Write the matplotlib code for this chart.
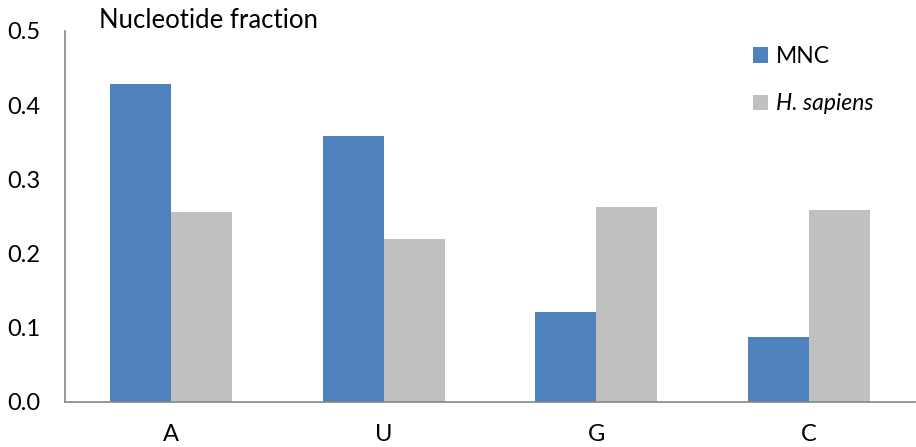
import matplotlib.pyplot as plt
import numpy as np

plt.rcParams['font.family'] = ['Lato', 'DejaVu Sans']

nucleotides = ['A', 'U', 'G', 'C']
mnc = [0.429, 0.358, 0.121, 0.088]
h_sapiens = [0.256, 0.220, 0.263, 0.259]

fig = plt.figure(figsize=(9.16, 4.47), dpi=100)
ax = fig.add_axes([0.071, 0.1007, 0.928, 0.83])

x = np.arange(len(nucleotides))
w = 0.287
ax.bar(x - w / 2, mnc, width=w, color='#4F81BD', label='MNC')
ax.bar(x + w / 2, h_sapiens, width=w, color='#C0C0C0', label='H. sapiens')

ax.set_xlim(-0.5, 3.5)
ax.set_ylim(0, 0.5)
ax.set_yticks([0, 0.1, 0.2, 0.3, 0.4, 0.5])
ax.set_yticklabels(['0.0', '0.1', '0.2', '0.3', '0.4', '0.5'])
ax.set_xticks(x)
ax.set_xticklabels(nucleotides)
ax.tick_params(length=0, labelsize=17, colors='black')
ax.tick_params(axis='y', pad=18)
ax.tick_params(axis='x', pad=16)

for s in ['top', 'right']:
    ax.spines[s].set_visible(False)
for s in ['left', 'bottom']:
    ax.spines[s].set_color('#868686')
    ax.spines[s].set_linewidth(1.2)

fig.text(0.108, 0.955, 'Nucleotide fraction', fontsize=18.5, va='center', ha='left')

leg = ax.legend(loc='upper left', bbox_to_anchor=(0.785, 1.015), frameon=False,
                fontsize=16.5, handlelength=0.65, handleheight=0.65,
                handletextpad=0.35, labelspacing=1.15)
leg.get_texts()[1].set_fontstyle('italic')

fig.savefig('out.png', dpi=100)
